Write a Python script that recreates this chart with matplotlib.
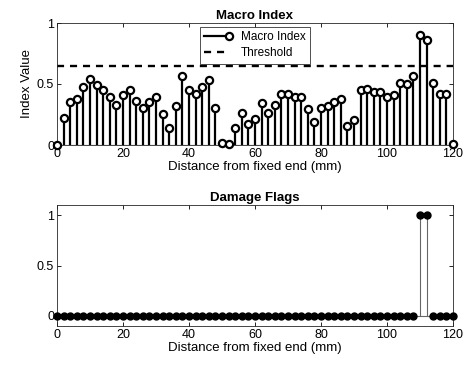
import numpy as np
import matplotlib
matplotlib.use('Agg')
import matplotlib.pyplot as plt
from matplotlib.lines import Line2D
from matplotlib.legend_handler import HandlerBase

plt.rcParams['font.family'] = ['Liberation Sans', 'DejaVu Sans']

# positions along the beam [mm]
distance = np.arange(0, 121, 2)

# macro index values
macro_index = [0.0, 0.22, 0.356, 0.375, 0.477, 0.54, 0.493, 0.447, 0.392, 0.329,
               0.411, 0.452, 0.359, 0.301, 0.351, 0.392, 0.252, 0.137, 0.32, 0.567,
               0.447, 0.419, 0.477, 0.534, 0.307, 0.02, 0.005, 0.137, 0.263, 0.175,
               0.21, 0.342, 0.266, 0.329, 0.419, 0.419, 0.392, 0.392, 0.293, 0.189,
               0.301, 0.32, 0.351, 0.381, 0.159, 0.205, 0.452, 0.46, 0.433, 0.433,
               0.397, 0.411, 0.512, 0.501, 0.567, 0.904, 0.858, 0.512, 0.416, 0.416,
               0.005]
threshold = 0.65

# damage flags (1 where index exceeds threshold)
damage_flags = [0] * 55 + [1, 1] + [0] * 4


class HandlerStem(HandlerBase):
    """legend entry like matlab stem: line with marker at the right end"""
    def create_artists(self, legend, orig_handle, xdescent, ydescent, width,
                       height, fontsize, trans):
        y = height / 2 - ydescent
        ln = Line2D([-xdescent, -xdescent + width], [y, y], color='k', lw=1.6)
        mk = Line2D([-xdescent + width], [y], ls='none', marker='o',
                    markerfacecolor='white', markeredgecolor='k',
                    markeredgewidth=1.6, markersize=5.2)
        ln.set_transform(trans)
        mk.set_transform(trans)
        return [ln, mk]


fig = plt.figure(figsize=(4.68, 3.69), dpi=100)
ax1 = fig.add_axes([57 / 468, 1 - 145 / 369, 396 / 468, 122 / 369])
ax2 = fig.add_axes([57 / 468, 1 - 326 / 369, 396 / 468, 121 / 369])

# top: macro index stem
ml, sl, bl = ax1.stem(distance, macro_index, linefmt='k-', markerfmt='ko', basefmt='k-')
plt.setp(sl, linewidth=1.6)
plt.setp(ml, markerfacecolor='white', markeredgewidth=1.6, markersize=5.2, clip_on=False, zorder=4)
plt.setp(bl, linewidth=0.8)
ax1.axhline(threshold, color='k', ls='--', lw=1.7, dashes=(3, 2.5))
ax1.set_xlim(0, 120)
ax1.set_ylim(0, 1)
ax1.set_yticks([0, 0.5, 1])
ax1.set_yticklabels(['0', '0.5', '1'])
ax1.set_title('Macro Index', fontsize=9.5, fontweight='bold', pad=3)
ax1.set_xlabel('Distance from fixed end (mm)', fontsize=9.5, labelpad=1)
ax1.set_ylabel('Index Value', fontsize=9.5, labelpad=3)

stem_handle = Line2D([], [], color='k')
dash_handle = Line2D([], [], color='k', lw=1.7, ls='--', dashes=(3, 2.5))
leg = ax1.legend([stem_handle, dash_handle], ['Macro Index', 'Threshold'],
                 handler_map={stem_handle: HandlerStem()}, loc='upper center',
                 fontsize=8.5, frameon=True, fancybox=False, edgecolor='k',
                 handlelength=2.1, borderpad=0.4, labelspacing=0.35,
                 handletextpad=1.0, bbox_to_anchor=(0.5, 1.0), borderaxespad=0.3)
leg.get_frame().set_linewidth(0.6)

# bottom: damage flags stem
ml2, sl2, bl2 = ax2.stem(distance, damage_flags, linefmt='-', markerfmt='ko', basefmt='-')
plt.setp(sl2, color='0.4', linewidth=0.8)
plt.setp(bl2, color='0.4', linewidth=0.8)
plt.setp(ml2, markerfacecolor='k', markersize=5, clip_on=False, zorder=4)
ax2.set_xlim(0, 120)
ax2.set_ylim(-0.1, 1.1)
ax2.set_yticks([0, 0.5, 1])
ax2.set_yticklabels(['0', '0.5', '1'])
ax2.set_title('Damage Flags', fontsize=9.5, fontweight='bold', pad=3)
ax2.set_xlabel('Distance from fixed end (mm)', fontsize=9.5, labelpad=1)

for ax in (ax1, ax2):
    ax.set_xticks(np.arange(0, 121, 20))
    ax.tick_params(direction='in', top=True, right=True, labelsize=9, length=3,
                   width=0.6, pad=2)
    for s in ax.spines.values():
        s.set_linewidth(0.6)
        s.set_color('0.15')

fig.savefig('out.png', dpi=100)
